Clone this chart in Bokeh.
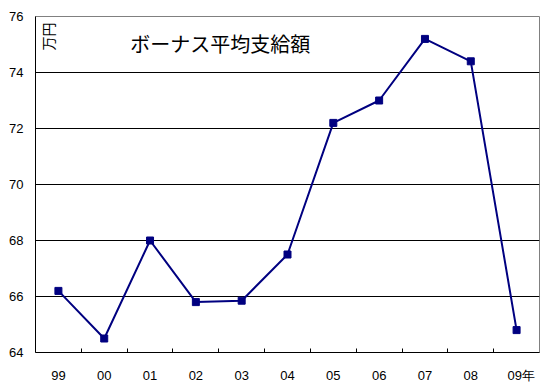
import math
from bokeh.plotting import figure
from bokeh.models import FixedTicker, Range1d, Label, ColumnDataSource
from bokeh.embed import file_html
from bokeh.resources import INLINE

years = ["99", "00", "01", "02", "03", "04", "05", "06", "07", "08", "09"]
bonus = [66.2, 64.5, 68.0, 65.8, 65.85, 67.5, 72.2, 73.0, 75.2, 74.4, 64.8]
y_ticks = [64, 66, 68, 70, 72, 74, 76]
title_text = "ボーナス平均支給額"
unit_text = "万円"
year_suffix = "年"

xs = [i + 0.5 for i in range(len(years))]
src = ColumnDataSource(dict(x=xs, y=bonus))

# label positions: last label carries the 年 suffix, nudged right so "09" stays under its point
label_pos = xs[:-1] + [xs[-1] + 0.1]
label_txt = years[:-1] + [years[-1] + year_suffix]

p = figure(width=543, height=390, output_backend="svg", toolbar_location=None,
           x_range=Range1d(0, len(years)), y_range=Range1d(64, 76),
           min_border_left=35, min_border_right=4, min_border_top=16, min_border_bottom=38)
p.background_fill_color = "white"
p.border_fill_color = "white"
p.outline_line_color = "#808080"
p.outline_line_width = 1

# axes
xa = p.xaxis[0]
xa.ticker = FixedTicker(ticks=label_pos, minor_ticks=list(range(1, len(years))))
xa.major_label_overrides = {x: t for x, t in zip(label_pos, label_txt)}
xa.major_tick_in = 0
xa.major_tick_out = 0
xa.minor_tick_in = 4
xa.minor_tick_out = 0
xa.minor_tick_line_color = "black"
xa.axis_line_color = "black"
xa.major_label_standoff = 15
xa.major_label_text_font = "Liberation Sans"
xa.major_label_text_font_size = "13px"
xa.major_label_text_color = "black"

ya = p.yaxis[0]
ya.ticker = FixedTicker(ticks=y_ticks)
ya.major_tick_in = 0
ya.major_tick_out = 0
ya.minor_tick_line_color = None
ya.axis_line_color = "black"
ya.major_label_standoff = 12
ya.major_label_text_font = "Liberation Sans"
ya.major_label_text_font_size = "13px"
ya.major_label_text_color = "black"

p.xgrid.visible = False
p.ygrid.ticker = FixedTicker(ticks=y_ticks[1:-1])
p.ygrid.grid_line_color = "black"
p.ygrid.grid_line_width = 1

p.line("x", "y", source=src, line_color="#000080", line_width=2)
p.scatter("x", "y", source=src, marker="square", size=7,
          fill_color="#000080", line_color="#000080")

p.add_layout(Label(x=2.07, y=75.04, text=title_text, text_font="Noto Sans CJK JP",
                   text_font_size="20px", text_baseline="middle", text_align="left",
                   text_color="black"))
p.add_layout(Label(x=0.27, y=75.29, text=unit_text, text_font="Noto Sans CJK JP",
                   text_font_size="14px", text_baseline="middle", text_align="center",
                   angle=math.pi / 2, text_color="black"))

open("out.html", "w").write(file_html(p, INLINE))
